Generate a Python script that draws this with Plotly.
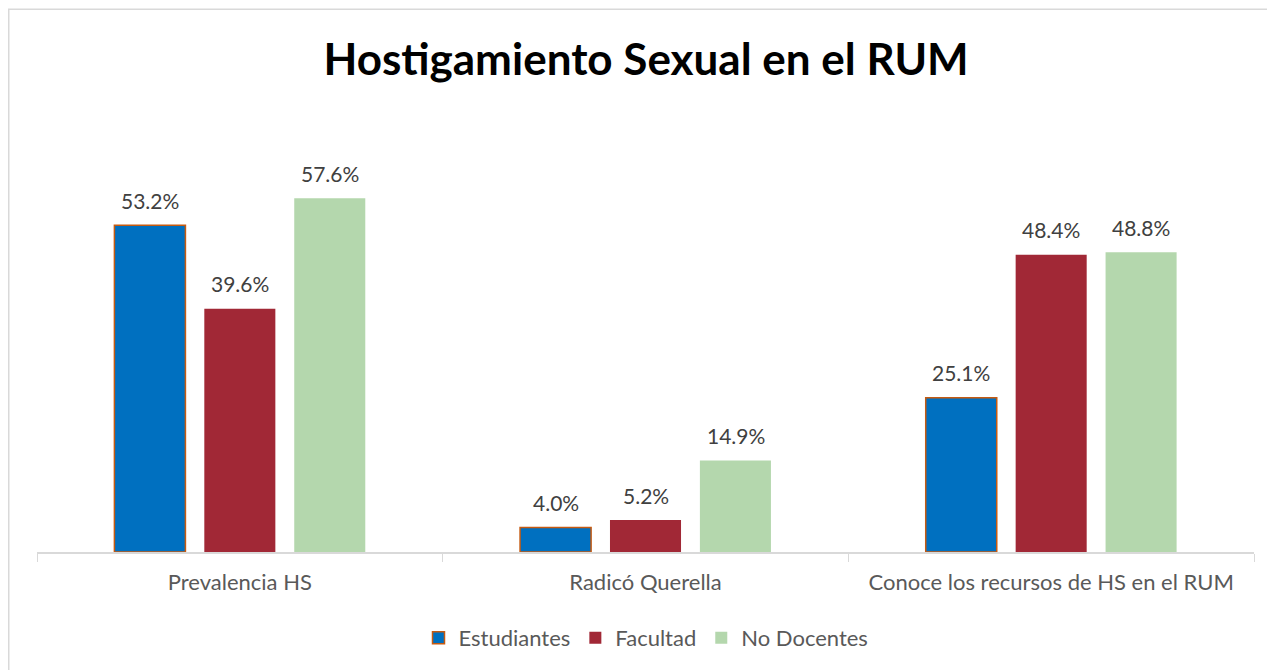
import plotly.graph_objects as go

categories = ["Prevalencia HS", "Radicó Querella", "Conoce los recursos de HS en el RUM"]
series_names = ["Estudiantes", "Facultad", "No Docentes"]
estudiantes = [53.2, 4.0, 25.1]
facultad = [39.6, 5.2, 48.4]
no_docentes = [57.6, 14.9, 48.8]

colors = ["#0070C0", "#A12836", "#B4D7AD"]
line_colors = ["#C55A11", "#A12836", "#B4D7AD"]
line_widths = [1.5, 0, 0]

FONT = "Lato, Open Sans, sans-serif"
W, H = 1267, 662
L, R, T, B = 29, 21, 114, 117
PW, PH = W - L - R, H - T - B

fig = go.Figure()
annotations = []
for i, (name, vals, c, lc, lw) in enumerate(zip(series_names, [estudiantes, facultad, no_docentes],
                                                 colors, line_colors, line_widths)):
    fig.add_trace(go.Bar(
        name=name, x=categories, y=vals,
        marker=dict(color=c, line=dict(color=lc, width=lw)),
    ))
    for cat, v in zip(categories, vals):
        annotations.append(dict(
            x=cat, y=v, xref="x", yref="y", text=f"{v:.1f}%", showarrow=False,
            xshift=(i - 1) * 90, yshift=25, yanchor="middle", xanchor="center",
            font=dict(family=FONT, size=21, color="#404040"),
        ))

fig.update_layout(
    width=W, height=H,
    margin=dict(l=L, r=R, t=T, b=B),
    paper_bgcolor="white", plot_bgcolor="white",
    barmode="group", bargap=0.335, bargroupgap=0.21,
    title=dict(text="<b>Hostigamiento Sexual en el RUM</b>", x=0.5036, xanchor="center",
               y=1 - 52 / H, yanchor="middle",
               font=dict(family=FONT, size=44, color="#000000")),
    font=dict(family=FONT),
    legend=dict(orientation="h", x=(638 - L) / PW, xanchor="center", y=-(630 - 545) / PH, yanchor="middle",
                font=dict(size=22, color="#595959"), itemwidth=30, traceorder="normal"),
    xaxis=dict(showline=True, linecolor="#D9D9D9", linewidth=1.5,
               ticks="outside", tickson="boundaries", ticklen=8, tickcolor="#D9D9D9",
               tickfont=dict(size=22, color="#595959"), ticklabelstandoff=10, showgrid=False),
    yaxis=dict(range=[0, 70], visible=False, showgrid=False),
    annotations=annotations,
    shapes=[dict(type="rect", xref="paper", yref="paper",
                 x0=(0.75 - L) / PW, x1=(W + 20 - L) / PW,
                 y0=-(H + 20 - (T + PH)) / PH, y1=(T + PH - 1) / PH,
                 line=dict(color="#D9D9D9", width=1.5), fillcolor="rgba(0,0,0,0)", layer="below")],
)

fig.write_html("out.html")
